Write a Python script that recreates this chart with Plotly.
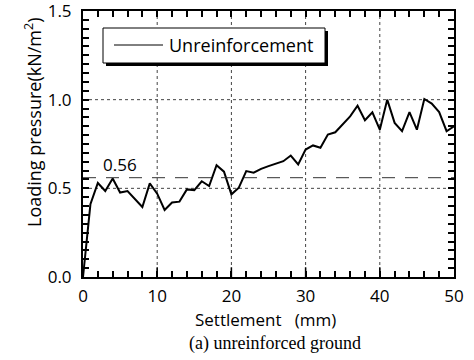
import plotly.graph_objects as go

settlement = list(range(0, 51))
pressure = [0.0, 0.41, 0.53, 0.485, 0.555, 0.476, 0.485, 0.44, 0.395, 0.528,
            0.47, 0.378, 0.42, 0.425, 0.494, 0.49, 0.54, 0.513, 0.63, 0.594,
            0.466, 0.504, 0.597, 0.588, 0.61, 0.625, 0.639, 0.653, 0.685, 0.635,
            0.719, 0.742, 0.729, 0.803, 0.816, 0.863, 0.906, 0.966, 0.884, 0.929,
            0.831, 1.0, 0.869, 0.822, 0.93, 0.831, 1.004, 0.978, 0.93, 0.822,
            0.85]
ref_value = 0.56
ref_label = "0.56"
series_name = "Unreinforcement"
x_range = [0, 50]
y_range = [0, 1.5]
x_major = [0, 10, 20, 30, 40, 50]
y_major = [0.0, 0.5, 1.0, 1.5]
y_major_labels = ["0.0", "0.5", "1.0", "1.5"]
x_minor = list(range(0, 51, 2))
y_minor = [round(i * 0.05, 2) for i in range(0, 31)]

SANS = "Open Sans"
SERIF = "Liberation Serif"

fig = go.Figure()
fig.add_trace(go.Scatter(x=settlement, y=pressure, mode="lines",
                         line=dict(color="black", width=2),
                         name=series_name, showlegend=False))
fig.add_trace(go.Scatter(x=[settlement[0], settlement[-1]], y=[ref_value, ref_value],
                         mode="lines", line=dict(color="#333333", width=1, dash="13px,10px"),
                         showlegend=False, hoverinfo="skip"))

L, R, T, B = 83, 20, 11, 83
W, H = 474, 360
pw, ph = W - L - R, H - T - B

def px(xp):
    return (xp - L) / pw

def py(yp):
    return (H - B - yp) / ph

# dotted grid lines at the major ticks
for xv in x_major[1:-1]:
    fig.add_shape(type="line", xref="x", yref="paper", x0=xv, x1=xv, y0=0, y1=1,
                  line=dict(color="#444444", width=1, dash="dot"), layer="below")
for yv in y_major[1:-1]:
    fig.add_shape(type="line", xref="paper", yref="y", x0=0, x1=1, y0=yv, y1=yv,
                  line=dict(color="#444444", width=1, dash="dot"), layer="below")

# longer major ticks along the bottom axis
for xv in x_major[1:-1]:
    fig.add_shape(type="line", xref="x", yref="y", x0=xv, x1=xv, y0=y_range[0], y1=0.055,
                  line=dict(color="black", width=1.5), layer="above")

# legend box with drop shadow
fig.add_shape(type="rect", xref="paper", yref="paper",
              x0=px(106), x1=px(328), y0=py(66), y1=py(31),
              fillcolor="black", line=dict(width=0), layer="above")
fig.add_shape(type="rect", xref="paper", yref="paper",
              x0=px(103), x1=px(325), y0=py(63), y1=py(28),
              fillcolor="white", line=dict(color="black", width=1), layer="above")
fig.add_shape(type="line", xref="paper", yref="paper",
              x0=px(114), x1=px(163), y0=py(45), y1=py(45),
              line=dict(color="black", width=1), layer="above")
fig.add_annotation(xref="paper", yref="paper", x=px(167), y=py(45),
                   text=series_name, showarrow=False, xanchor="left", yanchor="middle",
                   font=dict(family=SANS, size=18, color="black"))

fig.add_annotation(x=5.0, y=0.635, text=ref_label, showarrow=False,
                   font=dict(family=SANS, size=17, color="black"))

# axis titles and caption
fig.add_annotation(xref="paper", yref="paper", x=px(265), y=py(319),
                   text="Settlement   (mm)", showarrow=False,
                   xanchor="center", yanchor="middle",
                   font=dict(family=SANS, size=17, color="black"))
fig.add_annotation(xref="paper", yref="paper", x=px(33), y=py(122),
                   text="Loading pressure(kN/m<sup>2</sup>)", showarrow=False,
                   textangle=-90, xanchor="center", yanchor="middle",
                   font=dict(family=SANS, size=18, color="black"))
fig.add_annotation(xref="paper", yref="paper", x=px(275), y=py(343),
                   text="(a) unreinforced ground", showarrow=False,
                   xanchor="center", yanchor="middle",
                   font=dict(family=SERIF, size=18, color="black"))

x_text = [str(v) if v in x_major else "" for v in x_minor]
y_text = [y_major_labels[y_major.index(v)] if v in y_major else "" for v in y_minor]

fig.update_layout(
    template="none",
    width=W, height=H,
    margin=dict(l=L, r=R, t=T, b=B, autoexpand=False),
    paper_bgcolor="white", plot_bgcolor="white",
    font=dict(family=SANS, size=17, color="black"),
    xaxis=dict(
        range=x_range, tickmode="array", tickvals=x_minor, ticktext=x_text,
        showline=True, linecolor="black", linewidth=2, mirror="allticks",
        ticks="inside", ticklen=6, tickwidth=1.5, tickcolor="black",
        showgrid=False, zeroline=False, ticklabelstandoff=3,
        ticklabeloverflow="allow",
    ),
    yaxis=dict(
        range=y_range, tickmode="array", tickvals=y_minor, ticktext=y_text,
        showline=True, linecolor="black", linewidth=2, mirror="allticks",
        ticks="inside", ticklen=6, tickwidth=1.5, tickcolor="black",
        showgrid=False, zeroline=False, ticklabelstandoff=6,
        ticklabeloverflow="allow",
    ),
)

fig.write_html("out.html", config={"displayModeBar": False},
               post_script="document.body.style.margin='0';document.body.style.padding='0';")
